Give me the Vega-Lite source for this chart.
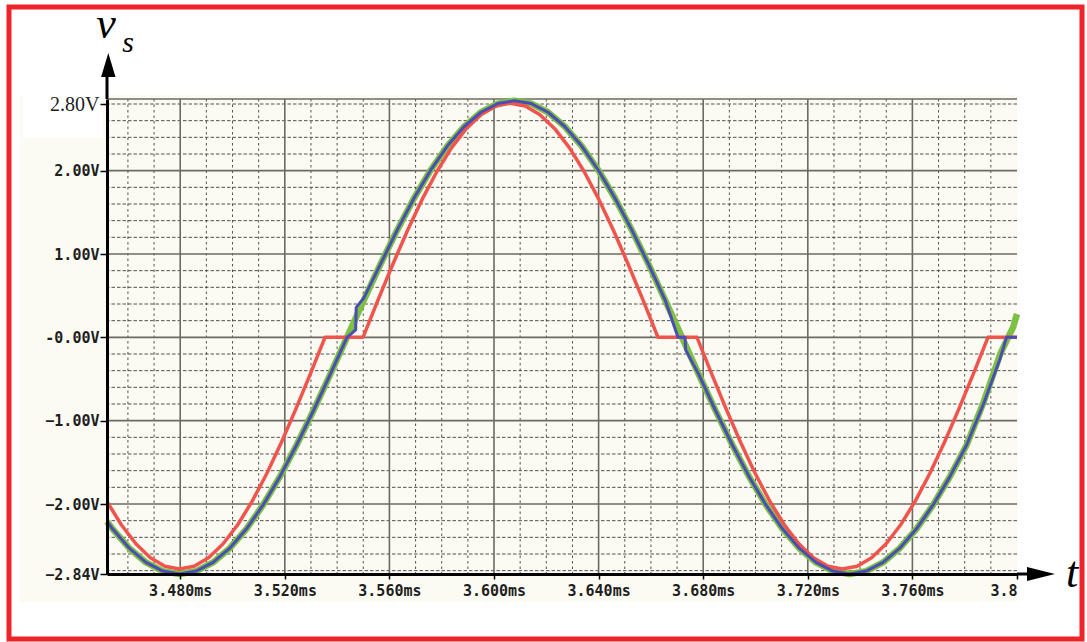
{
  "$schema": "https://vega.github.io/schema/vega-lite/v6.json",
  "width": 910,
  "height": 475,
  "autosize": {"type": "none"},
  "padding": {"left": 107, "top": 99, "right": 70, "bottom": 68},
  "background": "#ffffff",
  "config": {
    "view": {"stroke": null},
    "axis": {"grid": false, "labelFont": "DejaVu Sans Mono", "labelFontWeight": "bold", "labelFontSize": 15, "labelColor": "#1e1e1e", "domainColor": "#000000", "domainWidth": 3, "tickColor": "#000000", "tickWidth": 1.5, "labelOverlap": false, "labelBound": false}
  },
  "datasets": {
    "panel": [{"t": 3.41873, "t2": 3.8, "v": 2.908, "v2": -3.176}],
    "labelbox": [{"t": 3.41988, "t2": 3.45047, "v": 2.908, "v2": 2.392}],
    "border": [{"t": 3.41452, "t2": 3.82486, "v": 3.964, "v2": -3.62}],
    "axisext": [
      {"t": 3.452, "t2": 3.452, "v": 2.86, "v2": 3.2},
      {"t": 3.8, "t2": 3.8076, "v": -2.84, "v2": -2.84}
    ],
    "yarrow": [{"t": 3.4525, "v": 3.268}],
    "xarrow": [{"t": 3.80918, "v": -2.84}],
    "bigsym": [{"label": "v", "t": 3.45162, "v": 3.592}, {"label": "t", "t": 3.82103, "v": -2.99}],
    "subsym": [{"label": "s", "t": 3.46003, "v": 3.424}],
    "vgrid": [
      {"t": 3.46, "kind": "minor"}, {"t": 3.47, "kind": "minor"}, {"t": 3.48, "kind": "major"},
      {"t": 3.49, "kind": "minor"}, {"t": 3.50, "kind": "minor"}, {"t": 3.51, "kind": "minor"}, {"t": 3.52, "kind": "major"},
      {"t": 3.53, "kind": "minor"}, {"t": 3.54, "kind": "minor"}, {"t": 3.55, "kind": "minor"}, {"t": 3.56, "kind": "major"},
      {"t": 3.57, "kind": "minor"}, {"t": 3.58, "kind": "minor"}, {"t": 3.59, "kind": "minor"}, {"t": 3.60, "kind": "major"},
      {"t": 3.61, "kind": "minor"}, {"t": 3.62, "kind": "minor"}, {"t": 3.63, "kind": "minor"}, {"t": 3.64, "kind": "major"},
      {"t": 3.65, "kind": "minor"}, {"t": 3.66, "kind": "minor"}, {"t": 3.67, "kind": "minor"}, {"t": 3.68, "kind": "major"},
      {"t": 3.69, "kind": "minor"}, {"t": 3.70, "kind": "minor"}, {"t": 3.71, "kind": "minor"}, {"t": 3.72, "kind": "major"},
      {"t": 3.73, "kind": "minor"}, {"t": 3.74, "kind": "minor"}, {"t": 3.75, "kind": "minor"}, {"t": 3.76, "kind": "major"},
      {"t": 3.77, "kind": "minor"}, {"t": 3.78, "kind": "minor"}, {"t": 3.79, "kind": "minor"}
    ],
    "hgrid": [
      {"v": -2.8, "kind": "minor"}, {"v": -2.6, "kind": "minor"}, {"v": -2.4, "kind": "minor"}, {"v": -2.2, "kind": "minor"}, {"v": -2.0, "kind": "major"},
      {"v": -1.8, "kind": "minor"}, {"v": -1.6, "kind": "minor"}, {"v": -1.4, "kind": "minor"}, {"v": -1.2, "kind": "minor"}, {"v": -1.0, "kind": "major"},
      {"v": -0.8, "kind": "minor"}, {"v": -0.6, "kind": "minor"}, {"v": -0.4, "kind": "minor"}, {"v": -0.2, "kind": "minor"}, {"v": 0.0, "kind": "major"},
      {"v": 0.2, "kind": "minor"}, {"v": 0.4, "kind": "minor"}, {"v": 0.6, "kind": "minor"}, {"v": 0.8, "kind": "minor"}, {"v": 1.0, "kind": "major"},
      {"v": 1.2, "kind": "minor"}, {"v": 1.4, "kind": "minor"}, {"v": 1.6, "kind": "minor"}, {"v": 1.8, "kind": "minor"}, {"v": 2.0, "kind": "major"},
      {"v": 2.2, "kind": "minor"}, {"v": 2.4, "kind": "minor"}, {"v": 2.6, "kind": "minor"}, {"v": 2.8, "kind": "minor"}, {"v": 2.86, "kind": "major"}
    ],
    "curves": [
      {"trace": "blue", "t": 3.452, "v": -2.21},
      {"trace": "blue", "t": 3.4541, "v": -2.298},
      {"trace": "blue", "t": 3.46051, "v": -2.53},
      {"trace": "blue", "t": 3.46691, "v": -2.701},
      {"trace": "blue", "t": 3.47332, "v": -2.805},
      {"trace": "blue", "t": 3.47973, "v": -2.84},
      {"trace": "blue", "t": 3.48613, "v": -2.805},
      {"trace": "blue", "t": 3.49254, "v": -2.701},
      {"trace": "blue", "t": 3.49894, "v": -2.53},
      {"trace": "blue", "t": 3.50535, "v": -2.298},
      {"trace": "blue", "t": 3.51175, "v": -2.008},
      {"trace": "blue", "t": 3.51816, "v": -1.669},
      {"trace": "blue", "t": 3.52456, "v": -1.289},
      {"trace": "blue", "t": 3.53097, "v": -0.878},
      {"trace": "blue", "t": 3.53737, "v": -0.444},
      {"trace": "blue", "t": 3.54378, "v": 0.0},
      {"trace": "blue", "t": 3.5471, "v": 0.09},
      {"trace": "blue", "t": 3.5473, "v": 0.36},
      {"trace": "blue", "t": 3.55019, "v": 0.47},
      {"trace": "blue", "t": 3.55659, "v": 0.878},
      {"trace": "blue", "t": 3.563, "v": 1.289},
      {"trace": "blue", "t": 3.5694, "v": 1.669},
      {"trace": "blue", "t": 3.57581, "v": 2.008},
      {"trace": "blue", "t": 3.58221, "v": 2.298},
      {"trace": "blue", "t": 3.58862, "v": 2.53},
      {"trace": "blue", "t": 3.59502, "v": 2.701},
      {"trace": "blue", "t": 3.60143, "v": 2.805},
      {"trace": "blue", "t": 3.60784, "v": 2.84},
      {"trace": "blue", "t": 3.61424, "v": 2.805},
      {"trace": "blue", "t": 3.62065, "v": 2.701},
      {"trace": "blue", "t": 3.62705, "v": 2.53},
      {"trace": "blue", "t": 3.63346, "v": 2.298},
      {"trace": "blue", "t": 3.63986, "v": 2.008},
      {"trace": "blue", "t": 3.64627, "v": 1.669},
      {"trace": "blue", "t": 3.65267, "v": 1.289},
      {"trace": "blue", "t": 3.65908, "v": 0.878},
      {"trace": "blue", "t": 3.66548, "v": 0.444},
      {"trace": "blue", "t": 3.67036, "v": 0.0},
      {"trace": "blue", "t": 3.67304, "v": 0.0},
      {"trace": "blue", "t": 3.6733, "v": -0.15},
      {"trace": "blue", "t": 3.6783, "v": -0.444},
      {"trace": "blue", "t": 3.6847, "v": -0.878},
      {"trace": "blue", "t": 3.69111, "v": -1.289},
      {"trace": "blue", "t": 3.69751, "v": -1.669},
      {"trace": "blue", "t": 3.70392, "v": -2.008},
      {"trace": "blue", "t": 3.71032, "v": -2.298},
      {"trace": "blue", "t": 3.71673, "v": -2.53},
      {"trace": "blue", "t": 3.72313, "v": -2.701},
      {"trace": "blue", "t": 3.72954, "v": -2.805},
      {"trace": "blue", "t": 3.73595, "v": -2.84},
      {"trace": "blue", "t": 3.74235, "v": -2.805},
      {"trace": "blue", "t": 3.74876, "v": -2.701},
      {"trace": "blue", "t": 3.75516, "v": -2.53},
      {"trace": "blue", "t": 3.76157, "v": -2.298},
      {"trace": "blue", "t": 3.76797, "v": -2.008},
      {"trace": "blue", "t": 3.77438, "v": -1.669},
      {"trace": "blue", "t": 3.78078, "v": -1.289},
      {"trace": "blue", "t": 3.78719, "v": -0.8},
      {"trace": "blue", "t": 3.79359, "v": -0.25},
      {"trace": "blue", "t": 3.796, "v": 0.0},
      {"trace": "blue", "t": 3.8, "v": 0.0},

      {"trace": "green", "t": 3.452, "v": -2.21},
      {"trace": "green", "t": 3.4541, "v": -2.298},
      {"trace": "green", "t": 3.46051, "v": -2.53},
      {"trace": "green", "t": 3.46691, "v": -2.701},
      {"trace": "green", "t": 3.47332, "v": -2.805},
      {"trace": "green", "t": 3.47973, "v": -2.84},
      {"trace": "green", "t": 3.48613, "v": -2.805},
      {"trace": "green", "t": 3.49254, "v": -2.701},
      {"trace": "green", "t": 3.49894, "v": -2.53},
      {"trace": "green", "t": 3.50535, "v": -2.298},
      {"trace": "green", "t": 3.51175, "v": -2.008},
      {"trace": "green", "t": 3.51816, "v": -1.669},
      {"trace": "green", "t": 3.52456, "v": -1.289},
      {"trace": "green", "t": 3.53097, "v": -0.878},
      {"trace": "green", "t": 3.53737, "v": -0.444},
      {"trace": "green", "t": 3.54378, "v": 0.0},
      {"trace": "green", "t": 3.55019, "v": 0.444},
      {"trace": "green", "t": 3.55659, "v": 0.878},
      {"trace": "green", "t": 3.563, "v": 1.289},
      {"trace": "green", "t": 3.5694, "v": 1.669},
      {"trace": "green", "t": 3.57581, "v": 2.008},
      {"trace": "green", "t": 3.58221, "v": 2.298},
      {"trace": "green", "t": 3.58862, "v": 2.53},
      {"trace": "green", "t": 3.59502, "v": 2.701},
      {"trace": "green", "t": 3.60143, "v": 2.805},
      {"trace": "green", "t": 3.60784, "v": 2.84},
      {"trace": "green", "t": 3.61424, "v": 2.805},
      {"trace": "green", "t": 3.62065, "v": 2.701},
      {"trace": "green", "t": 3.62705, "v": 2.53},
      {"trace": "green", "t": 3.63346, "v": 2.298},
      {"trace": "green", "t": 3.63986, "v": 2.008},
      {"trace": "green", "t": 3.64627, "v": 1.669},
      {"trace": "green", "t": 3.65267, "v": 1.289},
      {"trace": "green", "t": 3.65908, "v": 0.878},
      {"trace": "green", "t": 3.66548, "v": 0.444},
      {"trace": "green", "t": 3.67189, "v": 0.0},
      {"trace": "green", "t": 3.6783, "v": -0.444},
      {"trace": "green", "t": 3.6847, "v": -0.878},
      {"trace": "green", "t": 3.69111, "v": -1.289},
      {"trace": "green", "t": 3.69751, "v": -1.669},
      {"trace": "green", "t": 3.70392, "v": -2.008},
      {"trace": "green", "t": 3.71032, "v": -2.298},
      {"trace": "green", "t": 3.71673, "v": -2.53},
      {"trace": "green", "t": 3.72313, "v": -2.701},
      {"trace": "green", "t": 3.72954, "v": -2.805},
      {"trace": "green", "t": 3.73595, "v": -2.84},
      {"trace": "green", "t": 3.74235, "v": -2.805},
      {"trace": "green", "t": 3.74876, "v": -2.701},
      {"trace": "green", "t": 3.75516, "v": -2.53},
      {"trace": "green", "t": 3.76157, "v": -2.298},
      {"trace": "green", "t": 3.76797, "v": -2.008},
      {"trace": "green", "t": 3.77438, "v": -1.669},
      {"trace": "green", "t": 3.78078, "v": -1.289},
      {"trace": "green", "t": 3.78719, "v": -0.78},
      {"trace": "green", "t": 3.79359, "v": -0.2},
      {"trace": "green", "t": 3.7966, "v": 0.0},
      {"trace": "green", "t": 3.7985, "v": 0.12},
      {"trace": "green", "t": 3.8, "v": 0.28},

      {"trace": "red", "t": 3.452, "v": -1.971},
      {"trace": "red", "t": 3.457467, "v": -2.249},
      {"trace": "red", "t": 3.463032, "v": -2.477},
      {"trace": "red", "t": 3.468596, "v": -2.644},
      {"trace": "red", "t": 3.474161, "v": -2.746},
      {"trace": "red", "t": 3.479725, "v": -2.78},
      {"trace": "red", "t": 3.48529, "v": -2.746},
      {"trace": "red", "t": 3.490854, "v": -2.644},
      {"trace": "red", "t": 3.496419, "v": -2.477},
      {"trace": "red", "t": 3.501983, "v": -2.249},
      {"trace": "red", "t": 3.507548, "v": -1.966},
      {"trace": "red", "t": 3.513112, "v": -1.634},
      {"trace": "red", "t": 3.518677, "v": -1.262},
      {"trace": "red", "t": 3.524241, "v": -0.859},
      {"trace": "red", "t": 3.529806, "v": -0.435},
      {"trace": "red", "t": 3.53537, "v": 0.0},
      {"trace": "red", "t": 3.5499, "v": 0.0},
      {"trace": "red", "t": 3.555541, "v": 0.44},
      {"trace": "red", "t": 3.561181, "v": 0.868},
      {"trace": "red", "t": 3.566822, "v": 1.276},
      {"trace": "red", "t": 3.572462, "v": 1.652},
      {"trace": "red", "t": 3.578103, "v": 1.987},
      {"trace": "red", "t": 3.583743, "v": 2.273},
      {"trace": "red", "t": 3.589384, "v": 2.504},
      {"trace": "red", "t": 3.595024, "v": 2.672},
      {"trace": "red", "t": 3.600665, "v": 2.775},
      {"trace": "red", "t": 3.606305, "v": 2.81},
      {"trace": "red", "t": 3.611946, "v": 2.775},
      {"trace": "red", "t": 3.617586, "v": 2.672},
      {"trace": "red", "t": 3.623227, "v": 2.504},
      {"trace": "red", "t": 3.628867, "v": 2.273},
      {"trace": "red", "t": 3.634508, "v": 1.987},
      {"trace": "red", "t": 3.640148, "v": 1.652},
      {"trace": "red", "t": 3.645789, "v": 1.276},
      {"trace": "red", "t": 3.651429, "v": 0.868},
      {"trace": "red", "t": 3.65707, "v": 0.44},
      {"trace": "red", "t": 3.66271, "v": 0.0},
      {"trace": "red", "t": 3.67763, "v": 0.0},
      {"trace": "red", "t": 3.683194, "v": -0.435},
      {"trace": "red", "t": 3.688758, "v": -0.859},
      {"trace": "red", "t": 3.694322, "v": -1.262},
      {"trace": "red", "t": 3.699886, "v": -1.634},
      {"trace": "red", "t": 3.70545, "v": -1.966},
      {"trace": "red", "t": 3.711014, "v": -2.249},
      {"trace": "red", "t": 3.716578, "v": -2.477},
      {"trace": "red", "t": 3.722142, "v": -2.644},
      {"trace": "red", "t": 3.727706, "v": -2.746},
      {"trace": "red", "t": 3.73327, "v": -2.78},
      {"trace": "red", "t": 3.738834, "v": -2.746},
      {"trace": "red", "t": 3.744398, "v": -2.644},
      {"trace": "red", "t": 3.749962, "v": -2.477},
      {"trace": "red", "t": 3.755526, "v": -2.249},
      {"trace": "red", "t": 3.76109, "v": -1.966},
      {"trace": "red", "t": 3.766654, "v": -1.634},
      {"trace": "red", "t": 3.772218, "v": -1.262},
      {"trace": "red", "t": 3.777782, "v": -0.859},
      {"trace": "red", "t": 3.783346, "v": -0.435},
      {"trace": "red", "t": 3.78891, "v": 0.0},
      {"trace": "red", "t": 3.8, "v": 0.0}
    ]
  },
  "layer": [
    {
      "data": {"name": "panel"},
      "mark": {"type": "rect", "fill": "#fbfbf3"},
      "encoding": {
        "x": {"field": "t", "type": "quantitative", "scale": {"domain": [3.452, 3.8], "nice": false, "zero": false}},
        "x2": {"field": "t2"},
        "y": {"field": "v", "type": "quantitative", "scale": {"domain": [-2.84, 2.86], "nice": false, "zero": false}},
        "y2": {"field": "v2"}
      }
    },
    {
      "data": {"name": "labelbox"},
      "mark": {"type": "rect", "fill": "#ffffff"},
      "encoding": {
        "x": {"field": "t", "type": "quantitative"},
        "x2": {"field": "t2"},
        "y": {"field": "v", "type": "quantitative"},
        "y2": {"field": "v2"}
      }
    },
    {
      "data": {"name": "vgrid"},
      "transform": [{"filter": "datum.kind === 'minor'"}],
      "mark": {"type": "rule", "color": "#404040", "strokeWidth": 1, "strokeDash": [2.5, 3], "opacity": 0.9},
      "encoding": {"x": {"field": "t", "type": "quantitative"}}
    },
    {
      "data": {"name": "hgrid"},
      "transform": [{"filter": "datum.kind === 'minor'"}],
      "mark": {"type": "rule", "color": "#404040", "strokeWidth": 1, "strokeDash": [3.5, 2], "opacity": 0.9},
      "encoding": {"y": {"field": "v", "type": "quantitative"}}
    },
    {
      "data": {"name": "vgrid"},
      "transform": [{"filter": "datum.kind === 'major'"}],
      "mark": {"type": "rule", "color": "#6b6b62", "strokeWidth": 1.6},
      "encoding": {"x": {"field": "t", "type": "quantitative"}}
    },
    {
      "data": {"name": "hgrid"},
      "transform": [{"filter": "datum.kind === 'major'"}],
      "mark": {"type": "rule", "color": "#6b6b62", "strokeWidth": 1.6},
      "encoding": {"y": {"field": "v", "type": "quantitative"}}
    },
    {
      "data": {"name": "curves"},
      "transform": [{"filter": "datum.trace === 'green'"}],
      "mark": {"type": "line", "color": "#7cc142", "strokeWidth": 6.5, "strokeJoin": "round", "strokeCap": "butt"},
      "encoding": {
        "x": {"field": "t", "type": "quantitative"},
        "y": {"field": "v", "type": "quantitative"}
      }
    },
    {
      "data": {"name": "curves"},
      "transform": [{"filter": "datum.trace === 'red'"}],
      "mark": {"type": "line", "color": "#f0544c", "strokeWidth": 3.5, "strokeJoin": "round", "strokeCap": "butt"},
      "encoding": {
        "x": {"field": "t", "type": "quantitative"},
        "y": {"field": "v", "type": "quantitative"}
      }
    },
    {
      "data": {"name": "curves"},
      "transform": [{"filter": "datum.trace === 'blue'"}],
      "mark": {"type": "line", "color": "#4c4cb6", "strokeWidth": 3, "strokeJoin": "round", "strokeCap": "butt"},
      "encoding": {
        "x": {
          "field": "t", "type": "quantitative",
          "axis": {
            "title": null,
            "zindex": 1,
            "values": [3.48, 3.52, 3.56, 3.6, 3.64, 3.68, 3.72, 3.76, 3.8],
            "labelExpr": "datum.value > 3.79 ? '3.8' : format(datum.value, '.3f') + 'ms'",
            "tickSize": 5,
            "labelPadding": 4,
            "labelFlush": true
          }
        },
        "y": {
          "field": "v", "type": "quantitative",
          "axis": {
            "title": null,
            "zindex": 1,
            "values": [-2.84, -2, -1, 0, 1, 2, 2.8],
            "labelExpr": "datum.value == 0 ? '-0.00V' : format(datum.value, '.2f') + 'V'",
            "tickSize": 7,
            "labelPadding": 1,
            "labelFont": {"condition": {"test": "datum.value > 2.7", "value": "Liberation Serif"}, "value": "DejaVu Sans Mono"},
            "labelFontSize": {"condition": {"test": "datum.value > 2.7", "value": 20}, "value": 15},
            "labelFontWeight": {"condition": {"test": "datum.value > 2.7", "value": "normal"}, "value": "bold"}
          }
        }
      }
    },
    {
      "data": {"name": "axisext"},
      "mark": {"type": "rule", "color": "#000000", "strokeWidth": 3},
      "encoding": {
        "x": {"field": "t", "type": "quantitative"},
        "x2": {"field": "t2"},
        "y": {"field": "v", "type": "quantitative"},
        "y2": {"field": "v2"}
      }
    },
    {
      "data": {"name": "yarrow"},
      "mark": {"type": "point", "shape": "M0,-1L0.6,1L-0.6,1Z", "filled": true, "color": "#000000", "opacity": 1, "size": 576},
      "encoding": {
        "x": {"field": "t", "type": "quantitative"},
        "y": {"field": "v", "type": "quantitative"}
      }
    },
    {
      "data": {"name": "xarrow"},
      "mark": {"type": "point", "shape": "M1,0L-1,-0.5L-1,0.5Z", "filled": true, "color": "#000000", "opacity": 1, "size": 784},
      "encoding": {
        "x": {"field": "t", "type": "quantitative"},
        "y": {"field": "v", "type": "quantitative"}
      }
    },
    {
      "data": {"name": "bigsym"},
      "mark": {"type": "text", "font": "Liberation Serif", "fontStyle": "italic", "fontSize": 44, "align": "center", "baseline": "alphabetic", "color": "#000000"},
      "encoding": {
        "x": {"field": "t", "type": "quantitative"},
        "y": {"field": "v", "type": "quantitative"},
        "text": {"field": "label"}
      }
    },
    {
      "data": {"name": "subsym"},
      "mark": {"type": "text", "font": "Liberation Serif", "fontStyle": "italic", "fontSize": 30, "align": "center", "baseline": "alphabetic", "color": "#000000"},
      "encoding": {
        "x": {"field": "t", "type": "quantitative"},
        "y": {"field": "v", "type": "quantitative"},
        "text": {"field": "label"}
      }
    },
    {
      "data": {"name": "border"},
      "mark": {"type": "rect", "fillOpacity": 0, "stroke": "#ee2428", "strokeWidth": 5},
      "encoding": {
        "x": {"field": "t", "type": "quantitative"},
        "x2": {"field": "t2"},
        "y": {"field": "v", "type": "quantitative"},
        "y2": {"field": "v2"}
      }
    }
  ]
}
